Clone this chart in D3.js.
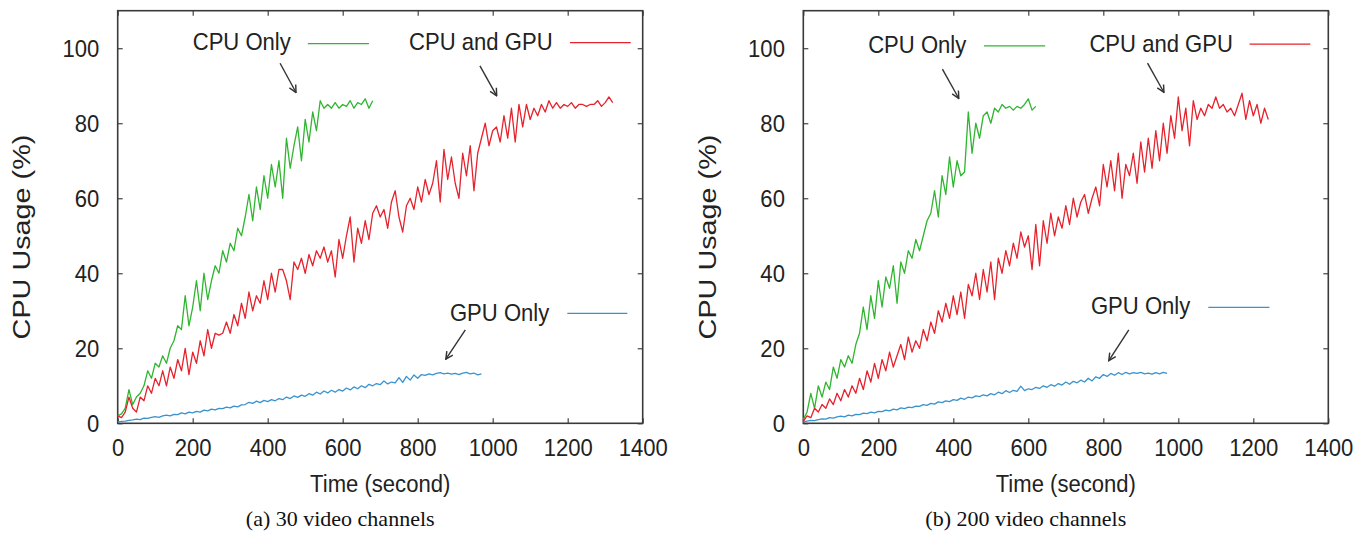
<!DOCTYPE html>
<html><head><meta charset="utf-8">
<script src="https://cdn.jsdelivr.net/npm/d3@7"></script>
<style>body{margin:0;background:#fff}</style>
</head><body><svg id="c" width="1370" height="533"></svg>
<script>
// ---------- DATA ----------
const sampleInterval = 10; // seconds between samples
const xTicks = [0, 200, 400, 600, 800, 1000, 1200, 1400];
const yTicks = [0, 20, 40, 60, 80, 100];
const seriesNames = ["CPU Only", "CPU and GPU", "GPU Only"];
const seriesColors = ["#2fb52f", "#e6222c", "#3893cf"];
const captions = ["(a) 30 video channels", "(b) 200 video channels"];
const xTitle = "Time (second)";
const yTitle = "CPU Usage (%)";

// (a) 30 video channels
const cpuOnlyA = [2,2.5,4,9,5,7,8,10,14,12,16,15,18,16,20,22,26,25,34,26,31,38,30,40,33,38,42,40,46,43,48,46,52,50,55,61,54,63,57,66,60,69,63,70,60,76,68,74,79,70,81,75,83,78,86,84,85,84,85.5,84,85,84.5,86,84,85.5,85,86.5,84,86];
const cpuGpuA = [2,1.5,3,7,4,3,7,6,10,8,12,10,14,10,15,12,17,14,20,13,19,16,22,18,25,20,24,23.5,24,27,24,29,26,32,28,35,30,34,32,38,33,40,35,41,
  41,38,33,43,41,44,40,45,42,46,44,47,43,46,39,49,44,50,55,43,52,48,54,49,56,
  58,55,57,52,59,62,55,51,58,60,57,63,59,65,61,64,
  70,59,73,65,71,64,60,72,66,74,62,72,76,80,74,78,
  79,75,82,76,84,75,85,79,85,81,84,82,85,83,86,84,85.5,84,85,84.5,85.5,84,85,85,84.5,85,85,86,84.5,85.5,87,85.5];
const gpuOnlyA = [0.3,0.5,0.6,0.8,0.9,1.1,1.0,1.4,1.3,1.6,1.8,1.6,2.0,2.2,2.0,2.4,2.3,2.8,2.5,3.0,
  2.8,3.2,3.0,3.5,3.3,3.8,3.6,4.0,3.9,4.3,4.1,4.6,4.4,4.9,5.0,5.6,5.3,5.9,5.5,6.1,
  5.8,6.3,6.0,6.6,6.3,7.0,6.6,7.3,6.9,7.5,7.2,7.9,7.5,8.3,7.8,8.6,8.1,8.8,8.3,9.0,
  8.6,9.4,8.9,9.7,9.2,10.0,9.5,10.4,10.0,10.6,10.3,11.3,10.5,11.0,10.8,12.2,10.9,12.5,11.5,12.9,
  12.0,13.0,12.8,13.2,12.9,13.3,13.5,13.2,13.4,13.1,13.3,13.0,13.4,13.6,13.2,13.4,12.9,13.2];

// (b) 200 video channels
const cpuOnlyB = [1,3,8,4,10,7,11,9,15,12,17,15,18,16,21,24,31,25,34,28,38,31,39,36,42,32,43,40,46,44,49,46,50,54,56,62,55,66,61,71,63,70,66,67,83,72,80,76,82,83,80,84,83,85,84,84.5,83.5,84.5,84,85,86.5,83.5,84.5];
const cpuGpuB = [0.5,2,1.5,4,3,5,4,6.5,5,8,6,9,7,10,8,12,9,14,11,16,
  12,17,14,19,15,18,21,17,23,19,22,20,25,22,27,24,30,27,32,28,
  34,29,35,28,37,34,40,33,41,35,43,33,44,40,46,42,48,44,51,47,
  50,41,53,42,54,48,56,50,55,52,58,53,60,55,59,61,56,60,63,58,
  69,63,70,62,72,60,69,66,72,64,75,67,76,68,78,70,80,72,82,76,
  87,78,84,74,86,81,84,82,85,84,87,84,85,83,84,82,85,88,81,86,
  82,85,80,84,81];
const gpuOnlyB = [0.3,0.6,0.8,0.7,1.0,1.2,1.1,1.5,1.4,1.7,1.9,1.7,2.2,2.0,2.4,2.3,2.7,2.6,3.0,2.8,
  3.2,3.1,3.5,3.3,3.8,3.6,4.1,3.9,4.3,4.2,4.6,4.5,5.0,4.8,5.3,5.1,5.7,5.5,6.0,5.8,
  6.3,6.1,6.7,6.4,7.0,6.8,7.3,7.1,7.6,7.3,7.9,7.6,8.3,7.9,8.7,8.2,8.8,8.5,9.9,8.7,
  9.2,9.0,9.6,9.3,10.0,9.6,10.3,9.9,10.6,10.2,11.0,10.4,11.2,10.8,11.5,11.0,12.0,11.3,12.4,12.0,
  13.0,12.5,13.3,12.8,13.5,13.0,13.6,13.2,13.5,13.3,13.6,13.2,13.4,13.1,13.5,13.2,13.6,13.3];

// key annotations, in data units: [textStartTime, textBaseline, lineStart, lineEnd, lineValue]
const keysA = [[200, 99.4, 507, 670, 101.2], [777, 99.4, 1206, 1368, 101.5], [886, 27.4, 1199, 1359, 29.3]];
const keysB = [[173, 98.7, 482, 645, 100.6], [763, 99.1, 1190, 1352, 101.1], [767, 29.1, 1080, 1243, 30.9]];
// arrows, in data units: [fromTime, fromValue, toTime, toValue]
const arrowsA = [[433, 96, 475.5, 88.2], [966, 95.3, 1010.7, 87.3], [927, 24.9, 875, 17.1]];
const arrowsB = [[371, 94.4, 414.7, 86.6], [918, 96, 961.7, 88.2], [868, 24.9, 814.7, 16.7]];

// ---------- DRAW ----------
const svg = d3.select("#c");
const sans = "'Liberation Sans', Arial, sans-serif";
const serif = "'Liberation Serif', 'Times New Roman', serif";
const SX = 0.92;

svg.append("defs").append("marker")
  .attr("id", "ah").attr("viewBox", "0 0 10 10").attr("refX", 9).attr("refY", 5)
  .attr("markerWidth", 9).attr("markerHeight", 9).attr("markerUnits", "userSpaceOnUse")
  .attr("orient", "auto")
  .append("path").attr("d", "M1,1 L9,5 L1,9").attr("fill", "none")
  .attr("stroke", "#333").attr("stroke-width", 1.6);

const panels = [
  {left: 117.7, caption: captions[0], series: [cpuOnlyA, cpuGpuA, gpuOnlyA], keys: keysA, arrows: arrowsA},
  {left: 803.3, caption: captions[1], series: [cpuOnlyB, cpuGpuB, gpuOnlyB], keys: keysB, arrows: arrowsB}
];
const plotTop = 10.7, W = 525, H = 412.6;

panels.forEach(p => {
  const g = svg.append("g").attr("transform", `translate(${p.left},${plotTop})`);
  const x = d3.scaleLinear().domain([0, 1400]).range([0, W]);
  const y = d3.scaleLinear().domain([0, 110]).range([H, 0]);

  // axes with inward ticks on all four sides
  const ax = g.append("g").attr("transform", `translate(0,${H})`)
    .call(d3.axisBottom(x).tickValues(xTicks).tickSizeInner(-5).tickSizeOuter(0).tickFormat(d3.format("d")));
  ax.selectAll("text").attr("y", 32.7).attr("dy", null);
  const ay = g.append("g")
    .call(d3.axisLeft(y).tickValues(yTicks).tickSizeInner(-5).tickSizeOuter(0).tickPadding(20).tickFormat(d3.format("d")));
  g.append("g").call(d3.axisTop(x).tickValues(xTicks).tickSizeInner(-5).tickSizeOuter(0).tickFormat(""));
  g.append("g").attr("transform", `translate(${W},0)`)
    .call(d3.axisRight(y).tickValues(yTicks).tickSizeInner(-5).tickSizeOuter(0).tickFormat(""));
  g.selectAll(".domain").remove();
  g.selectAll(".tick line").attr("stroke", "#444").attr("stroke-width", 1.2);
  g.selectAll(".tick text").attr("font-family", sans).attr("font-size", 24).attr("fill", "#222")
    .attr("transform", `scale(${SX},1)`);
  ay.selectAll("text").attr("dy", "0.36em");

  // frame
  g.append("rect").attr("x", 0).attr("y", 0).attr("width", W).attr("height", H)
    .attr("fill", "none").attr("stroke", "#3a3a3a").attr("stroke-width", 1.6);

  // series
  const line = d3.line().x((d, i) => x(i * sampleInterval)).y(d => y(d));
  p.series.forEach((s, k) => {
    g.append("path").datum(s).attr("d", line).attr("fill", "none")
      .attr("stroke", seriesColors[k]).attr("stroke-width", 1.3).attr("stroke-linejoin", "round");
  });

  // key labels and sample lines
  p.keys.forEach((kk, k) => {
    g.append("text").attr("transform", `translate(${x(kk[0])},${y(kk[1])}) scale(${SX},1)`)
      .attr("font-family", sans).attr("font-size", 24).attr("fill", "#222").text(seriesNames[k]);
    g.append("line").attr("x1", x(kk[2])).attr("x2", x(kk[3])).attr("y1", y(kk[4])).attr("y2", y(kk[4]))
      .attr("stroke", seriesColors[k]).attr("stroke-width", 1.3);
  });
  // arrows
  p.arrows.forEach(a => {
    g.append("line").attr("x1", x(a[0])).attr("y1", y(a[1])).attr("x2", x(a[2])).attr("y2", y(a[3]))
      .attr("stroke", "#333").attr("stroke-width", 1.4).attr("marker-end", "url(#ah)");
  });

  // titles
  g.append("text").attr("transform", `translate(${W / 2},${H + 68.7}) scale(${SX},1)`)
    .attr("text-anchor", "middle").attr("font-family", sans).attr("font-size", 24).attr("fill", "#222").text(xTitle);
  g.append("text").attr("transform", `translate(-87.7,${H / 2 + 20}) rotate(-90) scale(1.2,1)`)
    .attr("text-anchor", "middle").attr("font-family", sans).attr("font-size", 24).attr("fill", "#222").text(yTitle);
  g.append("text").attr("x", W / 2 - 40).attr("y", H + 102.7)
    .attr("text-anchor", "middle").attr("font-family", serif).attr("font-size", 22).attr("fill", "#111").text(p.caption);
});
</script></body></html>
